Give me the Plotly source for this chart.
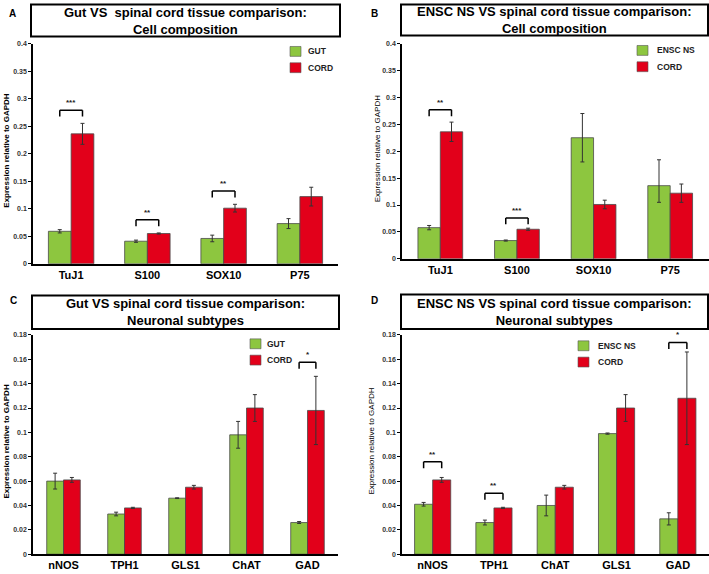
import plotly.graph_objects as go

W, H = 709, 574
GREEN = "#8DC63F"
RED = "#E2001A"
FONT = "Liberation Sans, Arial, sans-serif"

# A: gut vs spinal cord, cell composition
a_genes = ["TuJ1", "S100", "SOX10", "P75"]
a_gut = [0.059, 0.041, 0.046, 0.073]
a_gut_err = [0.003, 0.002, 0.006, 0.009]
a_cord = [0.236, 0.055, 0.101, 0.122]
a_cord_err = [0.019, 0.001, 0.007, 0.017]
a_stars = ["***", "**", "**", ""]
a_star_y = [0.279, 0.080, 0.132, 0]

# B: ENSC NS vs spinal cord, cell composition
b_genes = ["TuJ1", "S100", "SOX10", "P75"]
b_ensc = [0.058, 0.034, 0.225, 0.136]
b_ensc_err_up = [0.004, 0.001, 0.045, 0.048]
b_ensc_err_dn = [0.004, 0.001, 0.045, 0.031]
b_cord = [0.236, 0.055, 0.101, 0.122]
b_cord_err = [0.018, 0.002, 0.008, 0.017]
b_stars = ["**", "***", "", ""]
b_star_y = [0.277, 0.076, 0, 0]

# C: gut vs spinal cord, neuronal subtypes
c_genes = ["nNOS", "TPH1", "GLS1", "ChAT", "GAD"]
c_gut = [0.060, 0.033, 0.046, 0.098, 0.026]
c_gut_err = [0.0065, 0.0015, 0.0003, 0.011, 0.0008]
c_cord = [0.061, 0.038, 0.055, 0.120, 0.118]
c_cord_err = [0.002, 0.0005, 0.0015, 0.011, 0.028]
c_stars = ["", "", "", "", "*"]
c_star_y = [0, 0, 0, 0, 0.1575]

# D: ENSC NS vs spinal cord, neuronal subtypes
d_genes = ["nNOS", "TPH1", "ChAT", "GLS1", "GAD"]
d_ensc = [0.041, 0.026, 0.040, 0.099, 0.029]
d_ensc_err = [0.0015, 0.002, 0.0085, 0.0005, 0.005]
d_cord = [0.061, 0.038, 0.055, 0.120, 0.128]
d_cord_err = [0.002, 0.0005, 0.0015, 0.011, 0.038]
d_stars = ["**", "**", "", "", "*"]
d_star_y = [0.0758, 0.050, 0, 0, 0.1738]

panels = [
    dict(letter="A", ax="", genes=a_genes, g=a_gut, g_up=a_gut_err, g_dn=a_gut_err,
         r=a_cord, r_err=a_cord_err, stars=a_stars, star_y=a_star_y, gname="GUT",
         title="Gut VS  spinal cord tissue comparison:<br>Cell composition",
         plot=(33, 40, 338, 263), ymax=0.4, dtick=0.05, bw=0.298,
         box=(31, 0.5, 340, 33), letter_xy=(12, 10), ytitle_x=7, bold_ytitle=True,
         leg=(290, 43, 306)),
    dict(letter="B", ax="2", genes=b_genes, g=b_ensc, g_up=b_ensc_err_up, g_dn=b_ensc_err_dn,
         r=b_cord, r_err=b_cord_err, stars=b_stars, star_y=b_star_y, gname="ENSC NS",
         title="ENSC NS VS spinal cord tissue comparison:<br>Cell composition",
         plot=(402, 40, 708.5, 258), ymax=0.4, dtick=0.05, bw=0.292,
         box=(401, 0.5, 708, 32), letter_xy=(375, 10), ytitle_x=377, bold_ytitle=False,
         leg=(637, 42, 655)),
    dict(letter="C", ax="3", genes=c_genes, g=c_gut, g_up=c_gut_err, g_dn=c_gut_err,
         r=c_cord, r_err=c_cord_err, stars=c_stars, star_y=c_star_y, gname="GUT",
         title="Gut VS spinal cord tissue comparison:<br>Neuronal subtypes",
         plot=(33, 335, 338, 557), ymax=0.18, dtick=0.02, bw=0.275,
         box=(32, 295, 339, 329), letter_xy=(13, 300), ytitle_x=7, bold_ytitle=True,
         leg=(250, 339, 265)),
    dict(letter="D", ax="4", genes=d_genes, g=d_ensc, g_up=d_ensc_err, g_dn=d_ensc_err,
         r=d_cord, r_err=d_cord_err, stars=d_stars, star_y=d_star_y, gname="ENSC NS",
         title="ENSC NS VS spinal cord tissue comparison:<br>Neuronal subtypes",
         plot=(402, 335, 708.5, 557), ymax=0.18, dtick=0.02, bw=0.295,
         box=(401, 294, 708, 329), letter_xy=(375, 300), ytitle_x=372, bold_ytitle=False,
         leg=(578, 341, 596)),
]


def px(x):
    return x / W


def py(y):
    return 1 - y / H


def note(x, y, text, size, weight="bold", color="black", **kw):
    d = dict(x=px(x), y=py(y), xref="paper", yref="paper", text=text, showarrow=False,
             xanchor="center", yanchor="middle",
             font=dict(family=FONT, size=size, color=color, weight=weight))
    d.update(kw)
    return d


fig = go.Figure()
shapes = []
annotations = []
layout = {}

for p in panels:
    xa, ya = "x" + p["ax"], "y" + p["ax"]
    bw = p["bw"]
    err_style = dict(type="data", color="#333333", thickness=1, width=2)
    fig.add_trace(go.Bar(
        x=p["genes"], y=p["g"], width=bw, offset=-bw,
        error_y=dict(array=p["g_up"], arrayminus=p["g_dn"], symmetric=False, **err_style),
        marker=dict(color=GREEN, line=dict(color="#4a4a4a", width=0.8)),
        xaxis=xa, yaxis=ya, showlegend=False))
    fig.add_trace(go.Bar(
        x=p["genes"], y=p["r"], width=bw, offset=0,
        error_y=dict(array=p["r_err"], **err_style),
        marker=dict(color=RED, line=dict(color="#4a4a4a", width=0.8)),
        xaxis=xa, yaxis=ya, showlegend=False))

    x0, yt, x1, yb = p["plot"]
    n = len(p["genes"])
    layout["xaxis" + p["ax"]] = dict(
        domain=[px(x0), px(x1)], anchor=ya, range=[-0.5, n - 0.5],
        showline=True, linecolor="black", linewidth=1.5, ticks="",
        tickfont=dict(family=FONT, size=11, color="black", weight="bold"),
        showgrid=False, zeroline=False, fixedrange=True)
    layout["yaxis" + p["ax"]] = dict(
        domain=[py(yb), py(yt)], anchor=xa, range=[0, p["ymax"]], dtick=p["dtick"],
        tick0=0, showline=True, linecolor="black", linewidth=1.5,
        ticks="outside", ticklen=3, tickwidth=1, tickcolor="black",
        tickfont=dict(family=FONT, size=7, color="#333333", weight="bold"),
        showgrid=False, zeroline=False)

    # significance brackets
    leg_len = 6.5 * p["ymax"] / (yb - yt)
    for i, (s, sy) in enumerate(zip(p["stars"], p["star_y"])):
        if not s:
            continue
        xl, xr = i - bw / 2, i + bw / 2
        line = dict(color="black", width=1.5)
        shapes.append(dict(type="line", xref=xa, yref=ya, x0=xl, x1=xr, y0=sy, y1=sy, line=line))
        shapes.append(dict(type="line", xref=xa, yref=ya, x0=xl, x1=xl, y0=sy, y1=sy - leg_len, line=line))
        shapes.append(dict(type="line", xref=xa, yref=ya, x0=xr, x1=xr, y0=sy, y1=sy - leg_len, line=line))
        annotations.append(dict(x=i, y=sy, xref=xa, yref=ya, text=s, showarrow=False,
                                xanchor="center", yanchor="bottom", yshift=1,
                                font=dict(family=FONT, size=8, color="#222222", weight="bold")))

    # title box
    bx0, by0, bx1, by1 = p["box"]
    shapes.append(dict(type="rect", xref="paper", yref="paper", x0=px(bx0), x1=px(bx1),
                       y0=py(by1), y1=py(by0), line=dict(color="black", width=2),
                       fillcolor="white"))
    annotations.append(note((bx0 + bx1) / 2, (by0 + by1) / 2, p["title"], 13, align="center"))
    # panel letter
    lx, ly = p["letter_xy"]
    annotations.append(note(lx, ly, p["letter"], 10))
    # y title
    annotations.append(note(p["ytitle_x"], (yt + yb) / 2 - 3, "Expression relative to GAPDH", 8,
                            weight="bold" if p["bold_ytitle"] else "normal", textangle=-90))
    # legend
    sx, sy0, tx = p["leg"]
    for k, (col, name) in enumerate([(GREEN, p["gname"]), (RED, "CORD")]):
        top = sy0 + k * 16.5
        shapes.append(dict(type="rect", xref="paper", yref="paper", x0=px(sx), x1=px(sx + 11),
                           y0=py(top + 10), y1=py(top), fillcolor=col,
                           line=dict(color="#555555", width=0.6)))
        annotations.append(note(tx, top + 5, name, 8.5, color="#222222", xanchor="left"))

fig.update_layout(
    width=W, height=H, margin=dict(l=0, r=0, t=0, b=0),
    paper_bgcolor="white", plot_bgcolor="white",
    barmode="overlay", shapes=shapes, annotations=annotations, **layout)

fig.write_html("out.html", config={"displayModeBar": False},
               post_script="document.body.style.margin='0px';")
